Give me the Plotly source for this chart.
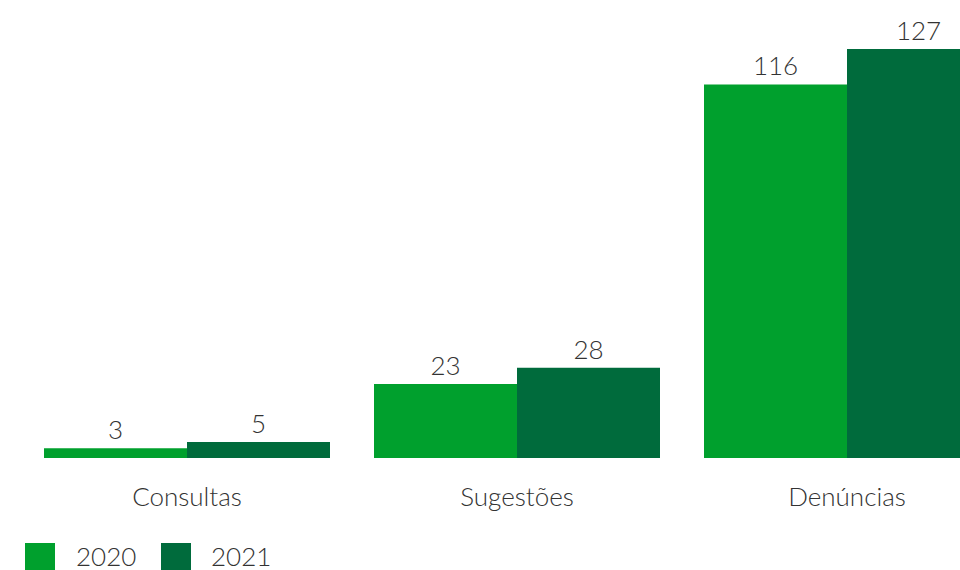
import plotly.graph_objects as go

categories = ["Consultas", "Sugestões", "Denúncias"]
years = ["2020", "2021"]
values_2020 = [3, 23, 116]
values_2021 = [5, 28, 127]
colors = ["#00A02D", "#006B3C"]

FONT = "Lato, 'Open Sans', sans-serif"
TXT = "#333333"
FS = 26
WT = 300

W, H = 960, 570
plot_h = 458

fig = go.Figure()
for name, vals, col in zip(years, [values_2020, values_2021], colors):
    fig.add_trace(go.Bar(
        x=categories, y=vals, name=name, marker=dict(color=col, line=dict(width=0)),
        text=[str(v) for v in vals], textposition="outside", cliponaxis=False,
        textfont=dict(family=FONT, size=FS, color=TXT, weight=WT), showlegend=False,
    ))

def py(p):
    return (plot_h - p) / plot_h

# manual legend (pixel positions)
leg_items = [(25, 55, 74), (161, 191, 209)]
for (x0, x1, tx), name, col in zip(leg_items, years, colors):
    fig.add_shape(type="rect", xref="paper", yref="paper",
                  x0=x0 / W, x1=x1 / W, y0=py(572), y1=py(543),
                  fillcolor=col, line=dict(width=0))
    fig.add_annotation(xref="paper", yref="paper", x=tx / W, y=py(556),
                       text=name, showarrow=False, xanchor="left", yanchor="middle",
                       font=dict(family=FONT, size=FS, color=TXT, weight=WT))

fig.update_layout(
    width=W, height=H,
    margin=dict(l=0, r=0, t=0, b=H - plot_h),
    paper_bgcolor="white", plot_bgcolor="white",
    barmode="group", bargap=44 / 330, bargroupgap=0,
    xaxis=dict(range=[-187 / 330, 2 + 113 / 330], showgrid=False, zeroline=False,
               showline=False, ticks="outside", ticklen=16, tickcolor="rgba(0,0,0,0)",
               tickfont=dict(family=FONT, size=FS, color=TXT, weight=WT)),
    yaxis=dict(range=[0, plot_h / 3.22], visible=False),
    font=dict(family=FONT, color=TXT),
)

fig.write_html(
    "out.html",
    config={"displayModeBar": False},
    post_script="document.body.style.margin='0';document.body.style.overflow='hidden';",
)
